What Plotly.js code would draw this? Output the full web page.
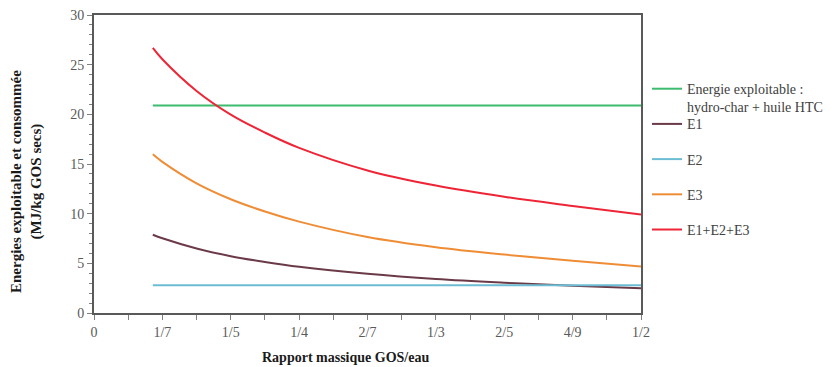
<!DOCTYPE html>
<html>
<head>
<meta charset="utf-8">
<script src="https://cdn.plot.ly/plotly-3.0.1.min.js"></script>
<style>html,body{margin:0;padding:0;background:#fff;}#chart{width:835px;height:367px;}</style>
</head>
<body>
<div id="chart"></div>
<script>
// Tick labels sit at evenly spaced positions 0..8 along the x axis
const tickLabels = ['0', '1/7', '1/5', '1/4', '2/7', '1/3', '2/5', '4/9', '1/2'];
const xPos = [0.86, 1, 1.5, 2, 2.5, 3, 4, 5, 6, 7, 8];

const energieExploitable = [20.9, 20.9, 20.9, 20.9, 20.9, 20.9, 20.9, 20.9, 20.9, 20.9, 20.9];
const e1 = [7.88, 7.53, 6.5, 5.72, 5.14, 4.65, 3.94, 3.42, 3.05, 2.75, 2.49];
const e2 = [2.8, 2.8, 2.8, 2.8, 2.8, 2.8, 2.8, 2.8, 2.8, 2.8, 2.8];
const e3 = [15.97, 15.21, 13.05, 11.45, 10.22, 9.2, 7.65, 6.62, 5.88, 5.25, 4.67];
const eSum = [26.68, 25.54, 22.35, 19.97, 18.16, 16.62, 14.35, 12.83, 11.7, 10.78, 9.92];

const names = ['Energie exploitable :', 'E1', 'E2', 'E3', 'E1+E2+E3'];
const nameCont = 'hydro-char + huile HTC';
const series = [energieExploitable, e1, e2, e3, eSum];
const colors = ['#3dbb6e', '#6b3a48', '#6cbdd3', '#ef8d36', '#ee2536'];

const traces = series.map((ys, i) => ({
  x: xPos,
  y: ys,
  type: 'scatter',
  mode: 'lines',
  name: names[i],
  line: {color: colors[i], width: 2, shape: 'spline', smoothing: 1},
  legendgroup: 'g' + i
}));

const layout = {
  width: 835,
  height: 367,
  margin: {l: 94, r: 194, t: 15, b: 54},
  paper_bgcolor: '#fff',
  plot_bgcolor: '#fff',
  font: {family: 'Liberation Serif', color: '#595959', size: 14},
  showlegend: true,
  legend: {
    x: 1.011, xanchor: 'left', y: 0.805, yanchor: 'top',
    font: {family: 'Liberation Serif', size: 14, color: '#404040'},
    valign: 'middle',
    tracegroupgap: 14,
    traceorder: 'grouped',
    itemwidth: 30,
    bgcolor: 'rgba(0,0,0,0)'
  },
  xaxis: {
    range: [0, 8],
    tickmode: 'array',
    tickvals: tickLabels.map((_, i) => i),
    ticktext: tickLabels,
    ticks: 'outside', ticklen: 5, tickwidth: 1, tickcolor: '#7f7f7f',
    minor: {dtick: 0.5, ticks: 'outside', ticklen: 5, tickcolor: '#7f7f7f'},
    showgrid: false, zeroline: false,
    showline: true, mirror: true, linecolor: '#595959', linewidth: 2,
    tickfont: {family: 'Liberation Serif', size: 14, color: '#595959'}
  },
  yaxis: {
    range: [0, 30],
    dtick: 5,
    ticks: 'outside', ticklen: 5, tickwidth: 1, tickcolor: '#7f7f7f',
    minor: {dtick: 1, ticks: 'outside', ticklen: 3, tickcolor: '#7f7f7f'},
    showgrid: false, zeroline: false,
    showline: true, mirror: true, linecolor: '#595959', linewidth: 2,
    tickfont: {family: 'Liberation Serif', size: 14, color: '#595959'}
  },
  annotations: [
    {
      text: '<b>Rapport massique GOS/eau</b>',
      xref: 'paper', yref: 'paper',
      x: 0.459, y: -0.151,
      xanchor: 'center', yanchor: 'middle',
      showarrow: false,
      font: {family: 'Liberation Serif', size: 14, color: '#1a1a1a'}
    },
    {
      text: '<b>Energies exploitable et consommée<br>(MJ/kg GOS secs)</b>',
      xref: 'paper', yref: 'paper',
      x: -0.1225, y: 0.443,
      xanchor: 'center', yanchor: 'middle',
      textangle: -90,
      showarrow: false,
      font: {family: 'Liberation Serif', size: 15, color: '#1a1a1a'}
    },
    {
      text: nameCont,
      xref: 'paper', yref: 'paper',
      x: 1.080, y: 0.688,
      xanchor: 'left', yanchor: 'middle',
      showarrow: false,
      font: {family: 'Liberation Serif', size: 14, color: '#404040'}
    }
  ]
};

Plotly.newPlot('chart', traces, layout, {displayModeBar: false, staticPlot: true});
</script>
</body>
</html>
